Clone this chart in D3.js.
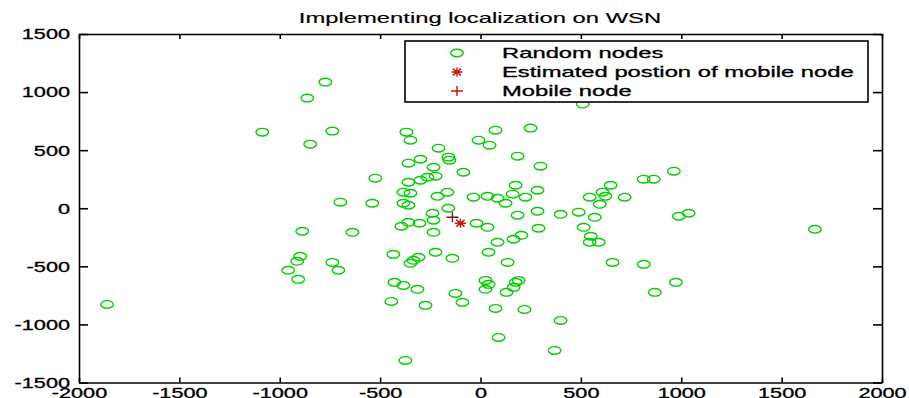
<!DOCTYPE html>
<html>
<head>
<meta charset="utf-8">
<script src="https://cdn.jsdelivr.net/npm/d3@7"></script>
<style>
    body { margin: 0; background: white; }
    text { font-family: "Liberation Sans", Arial, sans-serif; fill: black; stroke: black; stroke-width: 0.3px; }
</style>
</head>
<body>
<svg id="chart" width="909" height="398"></svg>
<script>
// chart values
var title = "Implementing localization on WSN";
var legendLabels = ["Random nodes", "Estimated postion of mobile node", "Mobile node"];
var xTicks = [-2000, -1500, -1000, -500, 0, 500, 1000, 1500, 2000];
var yTicks = [-1500, -1000, -500, 0, 500, 1000, 1500];

var randomNodes = [
    [-1860, -828], [-1087, 655], [-773, 1086], [-863, 948], [-848, 552], [-738, 664],
    [-524, 259], [-698, 52], [-539, 43], [-888, -198], [-638, -207], [-898, -414],
    [-913, -457], [-958, -534], [-908, -612], [-738, -466], [-708, -534],
    [-369, 655], [-349, 586], [75, 672], [249, 690], [-10, 586], [45, 543], [-209, 517],
    [-160, 440], [-155, 414], [185, 448], [299, 362], [-299, 422], [-359, 388], [-234, 353],
    [-85, 310], [-359, 224], [-299, 241], [-264, 267], [-224, 276],
    [-384, 138], [-349, 129], [-384, 43], [-359, 26], [-214, 103], [-165, 138], [-35, 95],
    [35, 103], [85, 86], [125, 43], [175, 198], [160, 121], [224, 95], [284, 155], [-160, 0],
    [-239, -43], [284, -26], [185, -60], [399, -52],
    [-394, -155], [-359, -121], [-304, -129], [-234, -103], [-234, -207], [-20, -129],
    [35, -164], [289, -172], [85, -293], [165, -267], [204, -233], [40, -379], [-224, -379],
    [-140, -431], [-309, -422], [-334, -448], [-349, -474], [135, -466], [-434, -397],
    [25, -621], [40, -655], [25, -698], [175, -638], [190, -621], [165, -681], [130, -724],
    [-429, -638], [-384, -664], [-314, -698], [-125, -733], [-90, -810], [-274, -836],
    [75, -862], [219, -871], [-444, -802], [399, -966], [90, -1112], [369, -1224], [-374, -1310],
    [509, 897], [813, 250], [863, 250], [963, 319], [648, 198], [608, 138], [623, 103],
    [544, 95], [718, 95], [594, 34], [489, -34], [569, -78], [514, -164], [549, -241],
    [544, -293], [589, -293], [658, -466], [813, -483], [973, -638], [868, -724],
    [988, -69], [1037, -43], [1666, -181]
];
var estimatedNode = [[-100, -129]];
var mobileNode = [[-140, -78]];

// layout ("top" is taken by window.top, so plot* names)
var plotLeft = 79, plotRight = 882, plotTop = 34, plotBottom = 382.5;
var stretch = 1.7;      // the picture is stretched sideways
var tickStretch = 1.55; // tick digits a bit narrower
var green = "#00d000", red = "#cc1111";

var svg = d3.select("#chart");

var x = d3.scaleLinear().domain([-2000, 2000]).range([plotLeft, plotRight]);
var y = d3.scaleLinear().domain([-1500, 1500]).range([plotBottom, plotTop]);

// markers
function plusPath(w, h) {
    return "M" + (-w) + ",0H" + w + "M0," + (-h) + "V" + h;
}
function starPath(w, h) {
    return plusPath(w, h) + "M" + (-w * 0.75) + "," + (-h * 0.75) + "L" + (w * 0.75) + "," + (h * 0.75) +
        "M" + (-w * 0.75) + "," + (h * 0.75) + "L" + (w * 0.75) + "," + (-h * 0.75);
}

var plot = svg.append("g");

plot.selectAll("ellipse.node")
    .data(randomNodes)
    .enter()
    .append("ellipse")
    .attr("class", "node")
    .attr("cx", function (d) { return x(d[0]); })
    .attr("cy", function (d) { return y(d[1]); })
    .attr("rx", 6.3)
    .attr("ry", 3.8)
    .attr("fill", "none")
    .attr("stroke", green)
    .attr("stroke-width", 1.4);

plot.selectAll("path.mobile")
    .data(mobileNode)
    .enter()
    .append("path")
    .attr("class", "mobile")
    .attr("transform", function (d) { return "translate(" + x(d[0]) + "," + y(d[1]) + ")"; })
    .attr("d", plusPath(6, 5))
    .attr("stroke", "#7a1a1a")
    .attr("stroke-width", 1.4);

plot.selectAll("path.estimated")
    .data(estimatedNode)
    .enter()
    .append("path")
    .attr("class", "estimated")
    .attr("transform", function (d) { return "translate(" + x(d[0]) + "," + y(d[1]) + ")"; })
    .attr("d", starPath(5.5, 4.5))
    .attr("stroke", red)
    .attr("stroke-width", 1.4);

// axes, ticks pointing inward, plain hyphen minus
var fontSize = 14;
var plain = function (d) { return String(d); };

var bottomAxis = svg.append("g")
    .attr("transform", "translate(0," + plotBottom + ")")
    .call(d3.axisBottom(x).tickValues(xTicks).tickFormat(plain).tickSizeInner(-5).tickSizeOuter(0));
bottomAxis.selectAll("text")
    .attr("y", 15.5)
    .attr("dy", 0)
    .attr("transform", "scale(" + tickStretch + ",1)");

var leftAxis = svg.append("g")
    .attr("transform", "translate(" + plotLeft + ",0)")
    .call(d3.axisLeft(y).tickValues(yTicks).tickFormat(plain).tickSizeInner(-9).tickSizeOuter(0));
leftAxis.selectAll("text")
    .attr("x", -9 / tickStretch)
    .attr("dy", "0.35em")
    .attr("transform", "scale(" + tickStretch + ",1)");

svg.append("g")
    .attr("transform", "translate(0," + plotTop + ")")
    .call(d3.axisTop(x).tickValues(xTicks).tickSizeInner(-5).tickSizeOuter(0).tickFormat(""));

svg.append("g")
    .attr("transform", "translate(" + plotRight + ",0)")
    .call(d3.axisRight(y).tickValues(yTicks).tickSizeInner(-9).tickSizeOuter(0).tickFormat(""));

svg.selectAll(".tick text")
    .attr("font-size", fontSize)
    .attr("fill", "black");
svg.selectAll("g").attr("font-family", null).attr("font-size", null);
svg.selectAll(".tick line, .domain")
    .attr("stroke", "black")
    .attr("stroke-width", 1.6);

// title
svg.append("text")
    .attr("transform", "translate(480,23) scale(" + stretch + ",1)")
    .attr("text-anchor", "middle")
    .attr("font-size", fontSize)
    .style("stroke-width", "0.15px")
    .text(title);

// legend
var legend = svg.append("g");
legend.append("rect")
    .attr("x", 405)
    .attr("y", 41)
    .attr("width", 463)
    .attr("height", 61)
    .attr("fill", "white")
    .attr("stroke", "black")
    .attr("stroke-width", 1.6);

var rowY = [53, 72, 91];
legend.append("ellipse")
    .attr("cx", 457).attr("cy", rowY[0])
    .attr("rx", 6.3).attr("ry", 3.8)
    .attr("fill", "none")
    .attr("stroke", green)
    .attr("stroke-width", 1.4);
legend.append("path")
    .attr("transform", "translate(457," + rowY[1] + ")")
    .attr("d", starPath(5.5, 4.5))
    .attr("stroke", red)
    .attr("stroke-width", 1.4);
legend.append("path")
    .attr("transform", "translate(457," + rowY[2] + ")")
    .attr("d", plusPath(6, 5))
    .attr("stroke", red)
    .attr("stroke-width", 1.4);

legend.selectAll("text")
    .data(legendLabels)
    .enter()
    .append("text")
    .attr("transform", function (d, i) {
        return "translate(502," + (rowY[i] + 5) + ") scale(" + stretch + ",1)";
    })
    .attr("font-size", fontSize)
    .text(function (d) { return d; });
</script>
</body>
</html>
